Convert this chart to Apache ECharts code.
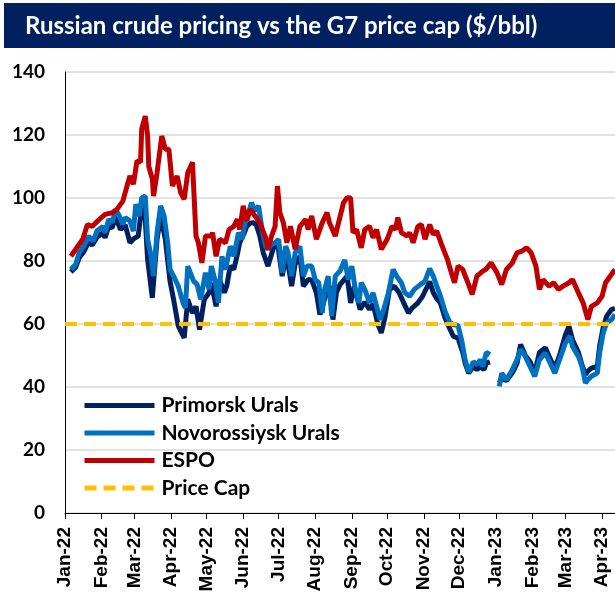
<!DOCTYPE html>
<html>
<head>
<meta charset="utf-8">
<title>Russian crude pricing vs the G7 price cap</title>
<script src="https://cdn.jsdelivr.net/npm/echarts@6/dist/echarts.min.js"></script>
<style>
html, body { margin: 0; padding: 0; background: #fff; }
#chart { width: 615px; height: 598px; }
</style>
</head>
<body>
<div id="chart"></div>
<script>
// x positions are days counted from 1 Jan 2022
const monthLabels = ['Jan-22', 'Feb-22', 'Mar-22', 'Apr-22', 'May-22', 'Jun-22', 'Jul-22', 'Aug-22',
  'Sep-22', 'Oct-22', 'Nov-22', 'Dec-22', 'Jan-23', 'Feb-23', 'Mar-23', 'Apr-23']
const monthStarts = monthLabels.map((m, i) => (Date.UTC(2022, i, 1) - Date.UTC(2022, 0, 1)) / 86400000)
const lastDay = 466
const priceCap = 60

const primorskDays = [5, 9, 12, 16, 20, 23, 27, 32, 34, 37,
  40, 43, 47, 51, 55, 58, 62, 65, 67, 70,
  74, 78, 81, 85, 89, 92, 96, 101, 104, 108,
  111, 114, 118, 122, 124, 128, 131, 135, 137, 140,
  143, 146, 148, 152, 154, 157, 159, 162, 165, 168,
  172, 177, 180, 184, 187, 189, 192, 195, 199, 202,
  206, 209, 213, 216, 220, 224, 227, 230, 233, 239,
  242, 245, 250, 254, 258, 261, 265, 268, 271, 275,
  279, 283, 287, 291, 294, 299, 303, 309, 312, 315,
  318, 322, 326, 329, 333, 337, 339, 342, 346, 349,
  352, 355, 357, 360, 363, 368, 370, 374, 379, 383,
  386, 390, 394, 398, 402, 407, 411, 415, 419, 424,
  427, 430, 435, 438, 441, 443, 446, 451, 453, 456,
  459, 463, 466]
const primorskValues = [76.5, 78, 81, 83, 86, 85, 87.5, 89, 87.4, 91,
  90.6, 94, 90, 91.5, 85.8, 87, 87.9, 97, 99.6, 80.5,
  68.3, 86.9, 94.3, 86.9, 73.6, 67.8, 59.3, 55.6, 67.8, 63.5,
  65.6, 58.2, 67.8, 69.9, 73, 65.6, 74, 70, 72, 78.4,
  77.3, 82, 85.8, 89, 91, 92, 92.2, 91.6, 88, 82.6,
  78.4, 84.7, 85.8, 75.2, 81, 79, 72, 79, 81.5, 72,
  74.1, 74, 69.9, 63, 68, 72, 61.4, 70, 72.5, 75.2,
  66.7, 72, 64.6, 67, 64.6, 66.5, 60, 57.2, 62, 71,
  72, 70, 66.7, 63.5, 65, 66.7, 68.8, 73.5, 70, 68,
  66.7, 62, 58.5, 56.1, 55.5, 51, 47.6, 44.4, 46.5, 45.5,
  46.5, 45.5, 47.6, 48, null, 41.3, 43, 42, 44.5, 47.5,
  53.5, 50, 48, 44.5, 51, 52.5, 49, 46, 50, 56.5,
  59.3, 55, 51, 47, 44, 45, 46, 46.5, 53, 59,
  62.5, 64.6, 65]

const novoDays = [5, 9, 12, 16, 20, 24, 27, 32, 34, 37,
  40, 43, 46, 49, 51, 55, 58, 60, 63, 65,
  68, 70, 73, 75, 78, 81, 84, 87, 89, 92,
  96, 100, 102, 104, 109, 112, 115, 119, 122, 124,
  127, 130, 133, 136, 140, 143, 147, 150, 153, 156,
  158, 161, 164, 167, 170, 172, 175, 178, 181, 184,
  187, 189, 192, 195, 199, 202, 205, 209, 212, 215,
  218, 220, 223, 226, 229, 233, 237, 240, 243, 246,
  249, 251, 254, 258, 261, 267, 270, 274, 278, 281,
  285, 288, 292, 296, 301, 305, 309, 312, 315, 318,
  322, 326, 329, 333, 336, 339, 342, 346, 349, 352,
  354, 357, 360, 363, 368, 370, 374, 379, 383, 386,
  390, 394, 398, 402, 407, 411, 415, 419, 424, 428,
  430, 435, 438, 441, 443, 446, 451, 453, 456, 459,
  463, 466]
const novoValues = [77.3, 78.9, 82.6, 84.7, 87.9, 86.3, 89.5, 91, 89, 93.2,
  92.2, 96.4, 94.3, 91.6, 93.8, 92.7, 89.5, 98, 94.3, 100.1,
  100.6, 86.9, 81.5, 75.2, 89, 97.5, 94.3, 85.8, 77.3, 75.2,
  72, 66.7, 65.1, 78.4, 73.6, 72.5, 67.8, 76.3, 71, 78.4,
  74.1, 66.7, 81.5, 77.3, 84.7, 81.5, 89, 86.9, 93.2, 95.9,
  98.5, 95.9, 97.5, 90, 84.7, 83.7, 85.3, 85.8, 86.9, 76.3,
  84.7, 82.6, 75.2, 82.6, 84.7, 75.2, 78.4, 78.4, 74.1, 73.1,
  63.5, 71, 75.2, 62.5, 75.2, 76.8, 80.3, 74.1, 78.4, 71,
  66.7, 73.1, 71, 66.7, 69.9, 61.4, 64.6, 69.9, 77.3, 75.2,
  73.1, 69.9, 68.8, 71, 72.5, 73.6, 77.6, 75.2, 72, 69,
  64, 60.5, 59.8, 59.5, 55, 48.7, 44.7, 48, 47.1, 48.7,
  46.5, 51, 50.3, null, 40.2, 44.4, 42.3, 45.5, 48.7, 51.9,
  49.7, 46.5, 43.4, 48.7, 50.8, 47.6, 44.4, 48.7, 54, 56.1,
  52.9, 49.7, 46.5, 41.3, 42.3, 43.4, 44.4, 50.8, 57.2, 60.4,
  61.4, 63]

const espoDays = [5, 10, 15, 19, 23, 29, 34, 40, 44, 49,
  53, 55, 58, 61, 64, 65, 68, 70, 71, 74,
  75, 78, 82, 85, 88, 91, 95, 98, 101, 104,
  108, 111, 113, 116, 119, 124, 125, 128, 131, 136,
  139, 143, 146, 148, 151, 154, 157, 161, 165, 170,
  172, 175, 178, 180, 182, 185, 188, 191, 195, 199,
  204, 206, 209, 213, 218, 222, 224, 229, 233, 236,
  239, 242, 244, 247, 251, 254, 258, 261, 264, 268,
  273, 277, 280, 282, 285, 290, 292, 295, 299, 302,
  305, 309, 312, 315, 319, 324, 326, 330, 333, 337,
  342, 345, 349, 353, 357, 361, 366, 370, 374, 379,
  383, 387, 391, 395, 399, 402, 405, 410, 414, 418,
  422, 427, 430, 435, 439, 443, 446, 451, 455, 458,
  461, 466]
const espoValues = [81.5, 84.2, 86.9, 91.6, 91, 93.2, 94.8, 95.3, 96.4, 99,
  104.4, 107, 104.4, 111.8, 111.4, 121.9, 126, 119.7, 110, 106,
  100.6, 108, 119.7, 115.5, 115.5, 103.8, 107, 101.7, 99.6, 108,
  111.3, 87.9, 85.8, 79.4, 87.9, 87.9, 89, 81.5, 86.9, 85.8,
  90, 91, 93.2, 90, 97.5, 92.7, 96.4, 94.3, 92.2, 87.4,
  83.7, 87.9, 91, 103.8, 95.4, 92.2, 85.8, 91, 83.7, 91,
  93.2, 90, 94.3, 86.9, 92.2, 95.4, 92.2, 87.9, 94, 98.5,
  100.1, 100, 89, 90, 84.2, 90, 91, 87.4, 90, 83.7,
  86.9, 91, 90, 93.8, 89, 87.9, 89, 85.8, 91, 91.6,
  86.9, 91.6, 88.4, 89.5, 85.3, 80.5, 77.9, 73.1, 78.4, 77.3,
  72.5, 69.4, 75.2, 76.5, 77.5, 79.4, 76.3, 72.5, 77.3, 79.4,
  82.6, 83.1, 84.2, 82.6, 78.4, 71, 74.1, 72, 73.1, 71,
  72, 73.1, 74.1, 69.9, 66.7, 61.4, 65.6, 66.7, 68.8, 73.1,
  74.7, 77.3]

function pairs(days, values) {
  return days.map((d, i) => [d, values[i]])
}

const myChart = echarts.init(document.getElementById('chart'), null, { renderer: 'canvas' })

const option = {
  animation: false,
  backgroundColor: '#fff',
  graphic: [
    {
      type: 'rect',
      shape: { x: 4, y: 3, width: 611, height: 45 },
      style: { fill: '#002060' }
    },
    {
      type: 'text',
      x: 25,
      y: 26,
      style: {
        text: 'Russian crude pricing vs the G7 price cap ($/bbl)',
        fill: '#fff',
        font: 'bold 24px Lato',
        verticalAlign: 'middle'
      }
    }
  ],
  grid: {
    left: 65,
    right: 0,
    top: 72,
    bottom: 85,
    containLabel: false,
    outerBoundsMode: 'none'
  },
  legend: {
    orient: 'vertical',
    left: 82,
    top: 395,
    padding: 0,
    itemWidth: 70,
    itemHeight: 14,
    itemGap: 6.5,
    itemStyle: { opacity: 0 },
    lineStyle: { width: 5 },
    textStyle: {
      fontFamily: 'Lato',
      fontWeight: 'bold',
      fontSize: 21,
      color: '#000',
      padding: [0, 0, 0, 2]
    },
    data: ['Primorsk Urals', 'Novorossiysk Urals', 'ESPO', 'Price Cap']
  },
  xAxis: {
    type: 'value',
    min: 0,
    max: lastDay,
    axisLine: { lineStyle: { color: '#000', width: 1 } },
    axisTick: {
      show: true,
      customValues: monthStarts,
      length: 6,
      lineStyle: { color: '#000', width: 1 }
    },
    axisLabel: {
      customValues: monthStarts,
      rotate: 90,
      margin: 14,
      color: '#000',
      fontFamily: 'Liberation Sans',
      fontWeight: 'bold',
      fontSize: 19,
      formatter: v => monthLabels[monthStarts.indexOf(v)]
    },
    splitLine: { show: false }
  },
  yAxis: {
    type: 'value',
    min: 0,
    max: 140,
    interval: 20,
    axisLine: { show: true, lineStyle: { color: '#000', width: 1 } },
    axisTick: { show: false },
    axisLabel: {
      margin: 20,
      color: '#000',
      fontFamily: 'Lato',
      fontWeight: 'bold',
      fontSize: 19
    },
    splitLine: { lineStyle: { color: '#d9d9d9', width: 1.5 } }
  },
  series: [
    {
      name: 'Primorsk Urals',
      type: 'line',
      symbol: 'none',
      data: pairs(primorskDays, primorskValues),
      lineStyle: { color: '#002060', width: 5 },
      itemStyle: { color: '#002060' }
    },
    {
      name: 'Novorossiysk Urals',
      type: 'line',
      symbol: 'none',
      data: pairs(novoDays, novoValues),
      lineStyle: { color: '#0070c0', width: 5 },
      itemStyle: { color: '#0070c0' }
    },
    {
      name: 'ESPO',
      type: 'line',
      symbol: 'none',
      data: pairs(espoDays, espoValues),
      lineStyle: { color: '#c00000', width: 5 },
      itemStyle: { color: '#c00000' }
    },
    {
      name: 'Price Cap',
      type: 'line',
      symbol: 'none',
      data: [[0, priceCap], [lastDay, priceCap]],
      lineStyle: { color: '#ffc000', width: 4, type: [12, 7] },
      itemStyle: { color: '#ffc000' }
    }
  ]
}

myChart.setOption(option, true)
</script>
</body>
</html>
